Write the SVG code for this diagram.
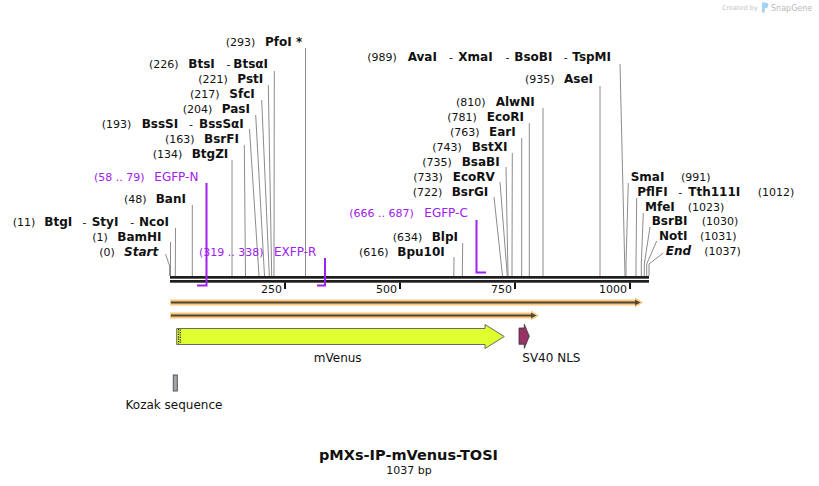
<svg xmlns="http://www.w3.org/2000/svg" width="819" height="486" viewBox="0 0 819 486">
<style>
text{font-family:"DejaVu Sans","Verdana",sans-serif;fill:#111}
.n{font-size:11px}
.b{font-size:12px;font-weight:bold}
.bi{font-size:12px;font-weight:bold;font-style:italic}
.h{font-size:11px;font-weight:normal}
.p{font-size:11px;fill:#a020f0}
.cut{stroke:#8c8c8c;stroke-width:1;fill:none}
.prim{stroke:#a020f0;stroke-width:2;fill:none}
.tick{fill:#111}
.lbl{font-size:12px}
</style>
<rect width="819" height="486" fill="#fff"/>
<g id="watermark">
<text x="722" y="10" style="font-size:6.5px;fill:#c4c4c4">Created by</text>
<path d="M762,2.5 h3.5 a2.8,2.8 0 0 1 0,5.6 h-0.8 v4.4 h-2.7 z" fill="#9fd3f0"/>
<text x="771" y="10.5" style="font-size:8px;fill:#b4bac0">SnapGene</text>
</g>
<g id="connectors">
<polyline class="cut" points="305.5,48 305.5,276"/>
<polyline class="cut" points="274.3,71 274,276"/>
<polyline class="cut" points="268.3,85 271.7,276"/>
<polyline class="cut" points="261.7,100 269.3,276"/>
<polyline class="cut" points="255.7,115 264.5,276"/>
<polyline class="cut" points="249.5,129 259,276"/>
<polyline class="cut" points="244.3,145 245.5,276"/>
<polyline class="cut" points="232,160 232,276"/>
<polyline class="cut" points="192.3,205 192.3,276"/>
<polyline class="cut" points="175.5,228 175.3,276"/>
<polyline class="cut" points="170.5,242 170.5,276"/>
<polyline class="cut" points="165.5,254 169.6,266 169.6,276"/>
<polyline class="cut" points="620,64 625,276"/>
<polyline class="cut" points="600,86 600,276"/>
<polyline class="cut" points="543,108 543,276"/>
<polyline class="cut" points="529.3,123 529.3,276"/>
<polyline class="cut" points="521.7,138 521.7,276"/>
<polyline class="cut" points="512.3,153 512,276"/>
<polyline class="cut" points="506,167 508,276"/>
<polyline class="cut" points="500,182 507.3,276"/>
<polyline class="cut" points="494,197 502.5,276"/>
<polyline class="cut" points="462.7,243 462.3,276"/>
<polyline class="cut" points="454,257 453.8,276"/>
<polyline class="cut" points="628.3,183 626,264 626,276"/>
<polyline class="cut" points="636.7,198 636,264 636,276"/>
<polyline class="cut" points="643.3,213 641.3,264 641.3,276"/>
<polyline class="cut" points="650,227 644.3,264 644.3,276"/>
<polyline class="cut" points="656.7,241 646.7,264 646.7,276"/>
<polyline class="cut" points="663.3,253 649,264 649,276"/>
</g>
<g id="backbone">
<rect x="170" y="276" width="479" height="2.7" fill="#1e1e1e"/>
<rect x="170" y="280" width="479" height="2.7" fill="#1e1e1e"/>
<rect class="tick" x="284" y="282.5" width="2" height="6.5"/>
<rect class="tick" x="399" y="282.5" width="2" height="6.5"/>
<rect class="tick" x="514" y="282.5" width="2" height="6.5"/>
<rect class="tick" x="629" y="282.5" width="2" height="6.5"/>
<text class="n" x="282" y="293" text-anchor="end">250</text>
<text class="n" x="397" y="293" text-anchor="end">500</text>
<text class="n" x="512" y="293" text-anchor="end">750</text>
<text class="n" x="627" y="293" text-anchor="end">1000</text>
</g>
<g id="site-PfoI"><text class="n" x="225.7" y="46">(293)</text><text class="b" x="265" y="46">PfoI *</text></g>
<g id="site-BtsI"><text class="n" x="149" y="67.5">(226)</text><text class="b" x="188.3" y="67.5">BtsI</text><text class="h" x="226.5" y="67.5">-</text><text class="b" x="233.3" y="67.5">BtsαI</text></g>
<g id="site-PstI"><text class="n" x="198.3" y="83">(221)</text><text class="b" x="237.3" y="83">PstI</text></g>
<g id="site-SfcI"><text class="n" x="190" y="98">(217)</text><text class="b" x="229.3" y="98">SfcI</text></g>
<g id="site-PasI"><text class="n" x="182.7" y="113">(204)</text><text class="b" x="221.7" y="113">PasI</text></g>
<g id="site-BssSI"><text class="n" x="101.7" y="127.5">(193)</text><text class="b" x="141.7" y="127.5">BssSI</text><text class="h" x="189" y="127.5">-</text><text class="b" x="199" y="127.5">BssSαI</text></g>
<g id="site-BsrFI"><text class="n" x="165" y="142.7">(163)</text><text class="b" x="204" y="142.7">BsrFI</text></g>
<g id="site-BtgZI"><text class="n" x="152.7" y="157.7">(134)</text><text class="b" x="191.7" y="157.7">BtgZI</text></g>
<g id="primer-EGFP-N"><text class="p" x="94" y="180.7">(58 .. 79)</text><text class="p" x="154.3" y="180.7" style="font-size:12px">EGFP-N</text><polyline class="prim" points="206.5,183 206.5,285.5 197,285.5"/></g>
<g id="site-BanI"><text class="n" x="124" y="202.7">(48)</text><text class="b" x="155.7" y="202.7">BanI</text></g>
<g id="site-BtgI"><text class="n" x="12.7" y="225.7">(11)</text><text class="b" x="44.3" y="225.7">BtgI</text><text class="h" x="82.5" y="225.7">-</text><text class="b" x="91.7" y="225.7">StyI</text><text class="h" x="130.3" y="225.7">-</text><text class="b" x="139" y="225.7">NcoI</text></g>
<g id="site-BamHI"><text class="n" x="92.3" y="240.7">(1)</text><text class="b" x="117.3" y="240.7">BamHI</text></g>
<g id="site-Start"><text class="n" x="99.3" y="255.5">(0)</text><text class="bi" x="124" y="255.5">Start</text></g>
<g id="primer-EXFP-R"><text class="p" x="199" y="255.7">(319 .. 338)</text><text class="p" x="274" y="255.7" style="font-size:12px">EXFP-R</text><polyline class="prim" points="325,258 325,285.5 317,285.5"/></g>
<g id="site-AvaI"><text class="n" x="367.3" y="60.7">(989)</text><text class="b" x="407.7" y="60.7">AvaI</text><text class="h" x="449" y="60.7">-</text><text class="b" x="458.3" y="60.7">XmaI</text><text class="h" x="505.4" y="60.7">-</text><text class="b" x="514.3" y="60.7">BsoBI</text><text class="h" x="563.7" y="60.7">-</text><text class="b" x="572.3" y="60.7">TspMI</text></g>
<g id="site-AseI"><text class="n" x="525" y="83.3">(935)</text><text class="b" x="564" y="83.3">AseI</text></g>
<g id="site-AlwNI"><text class="n" x="456" y="105.7">(810)</text><text class="b" x="495.7" y="105.7">AlwNI</text></g>
<g id="site-EcoRI"><text class="n" x="447.3" y="121">(781)</text><text class="b" x="486.7" y="121">EcoRI</text></g>
<g id="site-EarI"><text class="n" x="450" y="136">(763)</text><text class="b" x="489" y="136">EarI</text></g>
<g id="site-BstXI"><text class="n" x="432.3" y="151">(743)</text><text class="b" x="471.7" y="151">BstXI</text></g>
<g id="site-BsaBI"><text class="n" x="422.3" y="166">(735)</text><text class="b" x="461.7" y="166">BsaBI</text></g>
<g id="site-EcoRV"><text class="n" x="413.3" y="180.5">(733)</text><text class="b" x="452.7" y="180.5">EcoRV</text></g>
<g id="site-BsrGI"><text class="n" x="412.7" y="196">(722)</text><text class="b" x="451.7" y="196">BsrGI</text></g>
<g id="primer-EGFP-C"><text class="p" x="349.3" y="217.3">(666 .. 687)</text><text class="p" x="424.3" y="217.3" style="font-size:12px">EGFP-C</text><polyline class="prim" points="476.5,220 476.5,272.5 486,272.5"/></g>
<g id="site-BlpI"><text class="n" x="392.7" y="241">(634)</text><text class="b" x="431.7" y="241">BlpI</text></g>
<g id="site-Bpu10I"><text class="n" x="359" y="256">(616)</text><text class="b" x="397.3" y="256">Bpu10I</text></g>
<g id="site-SmaI"><text class="b" x="630.7" y="180.7">SmaI</text><text class="n" x="681" y="180.7">(991)</text></g>
<g id="site-PflFI"><text class="b" x="637.3" y="195.7">PflFI</text><text class="h" x="678.3" y="195.7">-</text><text class="b" x="688.3" y="195.7">Tth111I</text><text class="n" x="757.7" y="195.7">(1012)</text></g>
<g id="site-MfeI"><text class="b" x="645" y="210.7">MfeI</text><text class="n" x="687.7" y="210.7">(1023)</text></g>
<g id="site-BsrBI"><text class="b" x="651.7" y="225.3">BsrBI</text><text class="n" x="701.7" y="225.3">(1030)</text></g>
<g id="site-NotI"><text class="b" x="659" y="240.3">NotI</text><text class="n" x="700" y="240.3">(1031)</text></g>
<g id="site-End"><text class="bi" x="665.7" y="255.3">End</text><text class="n" x="704.3" y="255.3">(1037)</text></g>
<g id="feature-orange-1">
<polygon points="170,299.5 635,299.5 635,297.5 643,302.5 635,307.5 635,305.5 170,305.5" fill="#fbc77c"/>
<line x1="171" y1="302.5" x2="636" y2="302.5" stroke="#4d4535" stroke-width="2"/>
<polygon points="635,299.8 640.5,302.5 635,305.2" fill="#4d4535"/>
</g>
<g id="feature-orange-2">
<polygon points="170,312.5 531,312.5 531,310.5 539,315.5 531,320.5 531,318.5 170,318.5" fill="#fbc77c"/>
<line x1="171" y1="315.5" x2="532" y2="315.5" stroke="#4d4535" stroke-width="2"/>
<polygon points="531,312.8 536.5,315.5 531,318.2" fill="#4d4535"/>
</g>
<g id="feature-mVenus">
<polygon points="176.7,328.5 485,328.5 485,324.5 504.3,336.5 485,348.5 485,344.5 176.7,344.5" fill="#dfff2f" stroke="#6a6a6a" stroke-width="1"/>
<line x1="178.5" y1="329" x2="178.5" y2="344" stroke="#222" stroke-width="1.2" stroke-dasharray="1.2,1.2"/>
<line x1="180.3" y1="329.6" x2="180.3" y2="344" stroke="#222" stroke-width="1.2" stroke-dasharray="1.2,1.2"/>
<text class="lbl" x="337.7" y="361.5" text-anchor="middle">mVenus</text>
</g>
<g id="feature-SV40-NLS">
<polygon points="519,328 524.3,328 524.3,324.3 529.3,336.2 524.3,348.3 524.3,344.3 519,344.3" fill="#993366" stroke="#333" stroke-width="0.8"/>
<text class="lbl" x="522.3" y="361.5">SV40 NLS</text>
</g>
<g id="feature-Kozak">
<rect x="173.3" y="375" width="4" height="16" fill="#a3a7ae" stroke="#555" stroke-width="1"/>
<text class="lbl" x="174" y="409" text-anchor="middle">Kozak sequence</text>
</g>
<g id="title">
<text x="408.5" y="460" text-anchor="middle" style="font-size:14.5px;font-weight:bold">pMXs-IP-mVenus-TOSI</text>
<text x="409" y="473.5" text-anchor="middle" style="font-size:11px">1037 bp</text>
</g>
</svg>
